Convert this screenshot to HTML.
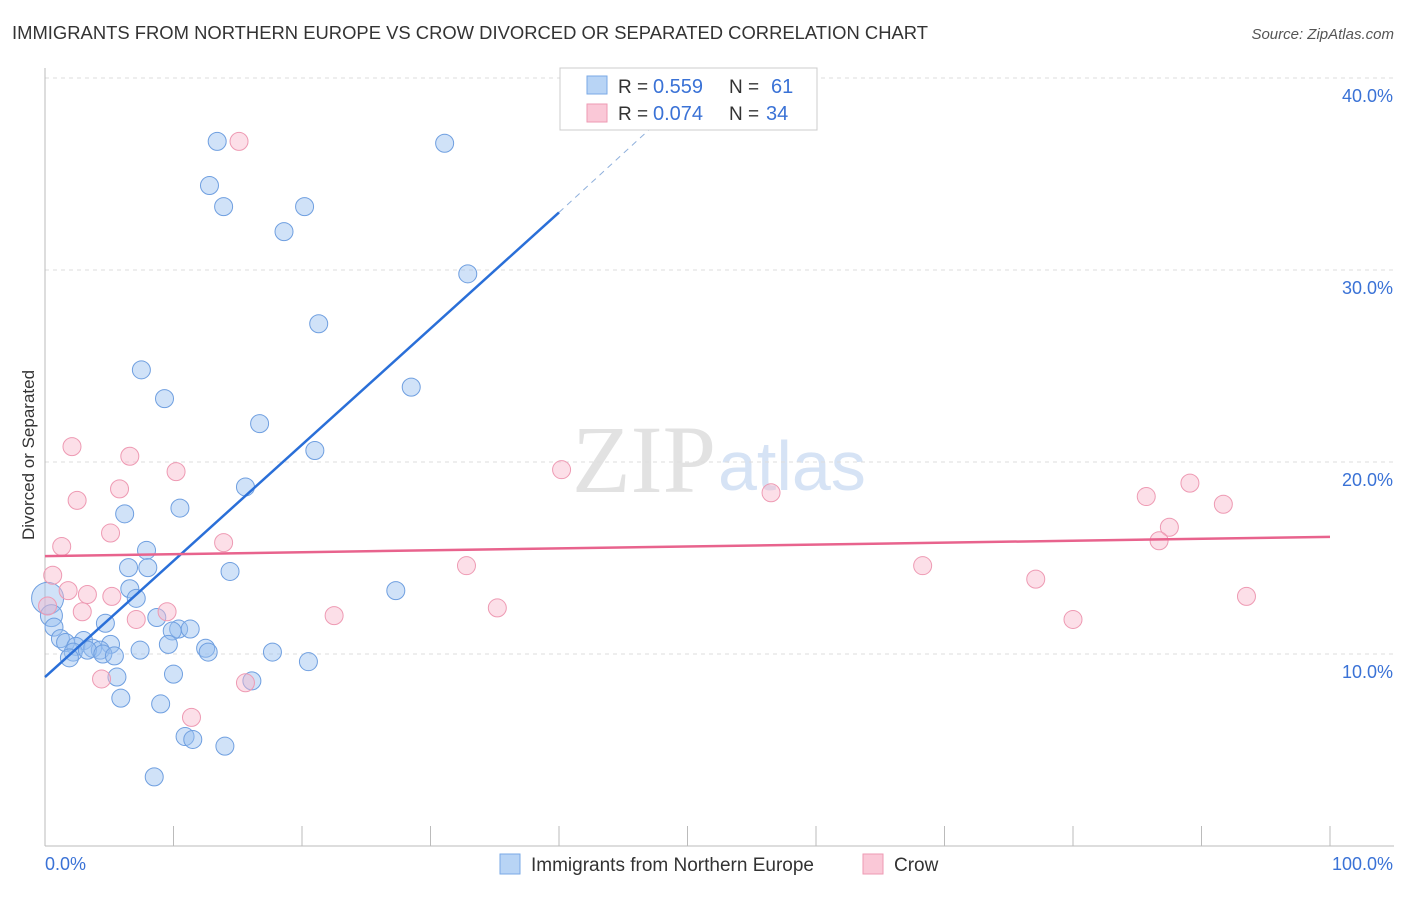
<!DOCTYPE html>
<html><head><meta charset="utf-8"><style>
body{margin:0;background:#fff;font-family:"Liberation Sans",sans-serif}
</style></head><body>
<svg id="chart" width="1406" height="892" xmlns="http://www.w3.org/2000/svg">
<text x="12" y="39" font-size="18" fill="#333" textLength="916" lengthAdjust="spacingAndGlyphs">IMMIGRANTS FROM NORTHERN EUROPE VS CROW DIVORCED OR SEPARATED CORRELATION CHART</text>
<text x="1394" y="39" font-size="15" fill="#555" font-style="italic" text-anchor="end">Source: ZipAtlas.com</text>
<text x="716" y="492" font-size="96" fill="#e2e2e2" font-family="Liberation Serif,serif" text-anchor="end">ZIP</text>
<text x="718" y="490" font-size="70" fill="#d6e3f5">atlas</text>
<g id="grid"></g><g id="axes"></g><g id="marks"></g>
<text transform="translate(34,455) rotate(-90)" font-size="17" fill="#333" text-anchor="middle">Divorced or Separated</text>
<g>
<rect x="560" y="68" width="257" height="62" fill="#fff" stroke="#ccc"/>
<rect x="587" y="76" width="20" height="18" fill="#b8d4f5" stroke="#7aa9e6"/>
<rect x="587" y="104" width="20" height="18" fill="#fac8d7" stroke="#ee9ab3"/>
<text x="618" y="93" font-size="19" fill="#333">R =</text>
<text x="653" y="93" font-size="20" fill="#3a72d6">0.559</text>
<text x="729" y="93" font-size="19" fill="#333">N =</text>
<text x="771" y="93" font-size="20" fill="#3a72d6">61</text>
<text x="618" y="120" font-size="19" fill="#333">R =</text>
<text x="653" y="120" font-size="20" fill="#3a72d6">0.074</text>
<text x="729" y="120" font-size="19" fill="#333">N =</text>
<text x="766" y="120" font-size="20" fill="#3a72d6">34</text>
</g>
<g>
<rect x="500" y="854" width="20" height="20" fill="#b8d4f5" stroke="#7aa9e6"/>
<text x="531" y="871" font-size="19" fill="#333">Immigrants from Northern Europe</text>
<rect x="863" y="854" width="20" height="20" fill="#fac8d7" stroke="#ee9ab3"/>
<text x="894" y="871" font-size="19" fill="#333">Crow</text>
</g>
</svg>
<script>
const yTicks=[10,20,30,40];
const yTickLabels=["10.0%","20.0%","30.0%","40.0%"];
const xEndLabels=["0.0%","100.0%"];
const blueX=[13.4,31.1,12.8,13.9,20.2,18.6,32.9,21.3,7.5,28.5,9.3,16.7,21.0,15.6,10.5,6.2,7.9,8.0,6.5,14.4,6.6,27.3,7.1,0.2,0.5,8.7,4.7,0.7,10.4,11.3,9.9,1.2,1.6,3.0,2.4,5.1,9.6,3.7,4.3,2.2,3.3,4.5,5.4,12.5,12.7,17.7,20.5,7.4,1.9,5.6,10.0,16.1,5.9,9.0,10.9,11.5,14.0,8.5];
const blueY=[36.7,36.6,34.4,33.3,33.3,32.0,29.8,27.2,24.8,23.9,23.3,22.0,20.6,18.7,17.6,17.3,15.4,14.5,14.5,14.3,13.4,13.3,12.9,12.9,12.0,11.9,11.6,11.4,11.3,11.3,11.2,10.8,10.6,10.7,10.4,10.5,10.5,10.3,10.2,10.1,10.2,10.0,9.9,10.3,10.1,10.1,9.6,10.2,9.8,8.8,8.95,8.6,7.7,7.4,5.7,5.55,5.2,3.6];
const blueR=[9,9,9,9,9,9,9,9,9,9,9,9,9,9,9,9,9,9,9,9,9,9,9,16,11,9,9,9,9,9,9,9,9,9,9,9,9,9,9,9,9,9,9,9,9,9,9,9,9,9,9,9,9,9,9,9,9,9];
const pinkX=[15.1,2.1,6.6,10.2,40.2,2.5,5.8,56.5,85.7,89.1,91.7,5.1,87.5,86.7,1.3,13.9,0.6,32.8,68.3,1.8,3.3,5.2,77.1,93.5,2.9,9.5,7.1,22.5,35.2,80.0,0.2,4.4,15.6,11.4];
const pinkY=[36.7,20.8,20.3,19.5,19.6,18.0,18.6,18.4,18.2,18.9,17.8,16.3,16.6,15.9,15.6,15.8,14.1,14.6,14.6,13.3,13.1,13.0,13.9,13.0,12.2,12.2,11.8,12.0,12.4,11.8,12.5,8.7,8.5,6.7];
const blueLine=[[0,8.8],[40,33.0]],blueDash=[[40,33.0],[47,37.3]];
const pinkLine=[[0,15.1],[100,16.1]];
const X0=45,X1=1330,Y0=846,PPY=19.2;
const sx=v=>X0+(X1-X0)*v/100, sy=v=>Y0-v*PPY;
const NS="http://www.w3.org/2000/svg";
function mk(t,a,p){const e=document.createElementNS(NS,t);for(const k in a)e.setAttribute(k,a[k]);p.appendChild(e);return e;}
const grid=document.getElementById('grid'),axes=document.getElementById('axes'),marks=document.getElementById('marks');
yTicks.forEach((v,i)=>{
 const l=mk('line',{x1:45,x2:1394,y1:sy(v),y2:sy(v),stroke:'#ddd','stroke-dasharray':'4,4'},grid);
 
 
 const t=mk('text',{x:1393,y:sy(v)+24,'font-size':18,fill:'#3a72d6','text-anchor':'end'},axes);
 t.textContent=yTickLabels[i];
 
 
});
const ax=mk('line',{x1:45,x2:45,y1:68,y2:846,stroke:'#bbb'},axes);


const bx=mk('line',{x1:45,x2:1394,y1:846,y2:846,stroke:'#bbb'},axes);


for(let i=0;i<=10;i++){const tk=mk('line',{x1:sx(i*10),x2:sx(i*10),y1:826,y2:846,stroke:'#bbb'},axes);
 
 }
[[45,'start',0],[1393,'end',1]].forEach(([x,a,i])=>{const t=mk('text',{x:x,y:870,'font-size':18,fill:'#3a72d6','text-anchor':a},axes);t.textContent=xEndLabels[i];
 
 });
blueX.forEach((v,i)=>{const c=mk('circle',{cx:sx(v),cy:sy(blueY[i]),r:blueR[i],fill:'rgba(150,190,240,0.45)',stroke:'#6f9fe0','stroke-width':1},marks);
 
 });
pinkX.forEach((v,i)=>{const c=mk('circle',{cx:sx(v),cy:sy(pinkY[i]),r:9,fill:'rgba(248,185,205,0.45)',stroke:'#ee9ab3','stroke-width':1},marks);
 
 });
const bl=mk('line',{x1:sx(blueLine[0][0]),y1:sy(blueLine[0][1]),x2:sx(blueLine[1][0]),y2:sy(blueLine[1][1]),stroke:'#2a6fd8','stroke-width':2.5},marks);


const bd=mk('line',{x1:sx(blueDash[0][0]),y1:sy(blueDash[0][1]),x2:sx(blueDash[1][0]),y2:sy(blueDash[1][1]),stroke:'#8fb0dc','stroke-width':1,'stroke-dasharray':'6,5'},marks);


const pl=mk('line',{x1:sx(pinkLine[0][0]),y1:sy(pinkLine[0][1]),x2:sx(pinkLine[1][0]),y2:sy(pinkLine[1][1]),stroke:'#e8638d','stroke-width':2.5},marks);


</script>
</body></html>
